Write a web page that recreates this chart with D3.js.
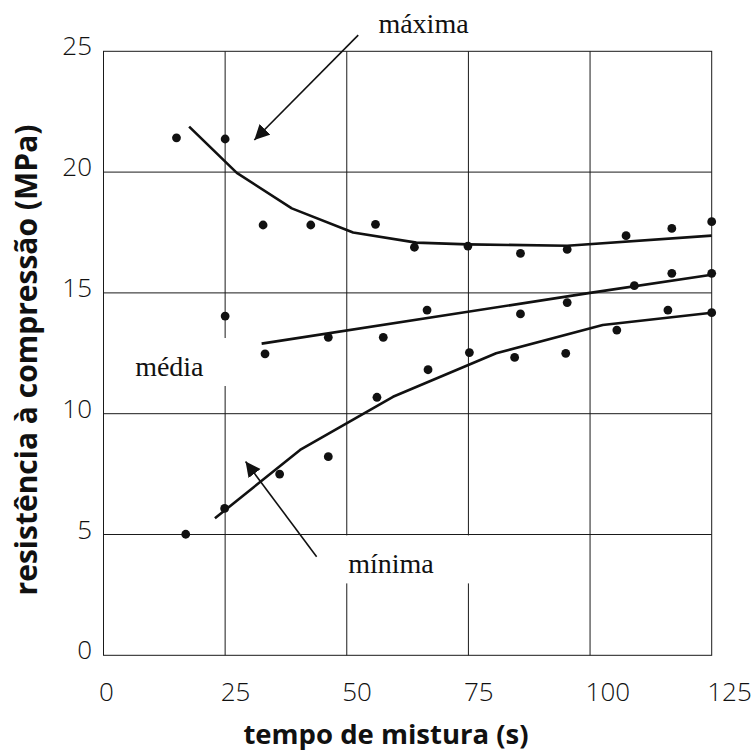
<!DOCTYPE html>
<html>
<head>
<meta charset="utf-8">
<script src="https://cdn.jsdelivr.net/npm/d3@7"></script>
<style>
  html, body { margin: 0; padding: 0; background: #fff; }
  svg { display: block; }
</style>
</head>
<body>
<svg id="chart" width="753" height="751"></svg>
<script>
// Eixos
const xTicks = [0, 25, 50, 75, 100, 125];
const yTicks = [0, 5, 10, 15, 20, 25];
const xTitle = "tempo de mistura (s)";
const yTitle = "resistência à compressão (MPa)";

// Ensaios individuais: tempo de mistura (s) e resistência (MPa)
const tempoObs  = [15.0, 25.0, 32.8, 42.6, 55.9, 63.9, 74.9, 85.7, 95.3, 107.4, 116.8, 125.0,
                   25.0, 33.2, 46.2, 57.5, 66.5, 85.7, 95.3, 109.1, 116.8, 125.0,
                   16.9, 24.9, 36.2, 46.2, 56.2, 66.7, 75.2, 84.5, 95.0, 105.5, 116.0, 125.0];
const resistObs = [21.42, 21.37, 17.81, 17.81, 17.84, 16.89, 16.94, 16.64, 16.80, 17.37, 17.67, 17.95,
                   14.04, 12.48, 13.16, 13.16, 14.29, 14.13, 14.60, 15.30, 15.81, 15.81,
                   5.01, 6.08, 7.50, 8.22, 10.68, 11.82, 12.53, 12.33, 12.50, 13.46, 14.29, 14.18];

// Curvas de tendência
const maxTempo  = [17.6, 27.4, 38.7, 51.3, 64.3, 74.9, 95.3, 125];
const maxResist = [21.88, 19.97, 18.5, 17.5, 17.08, 17.01, 16.95, 17.37];
const medTempo  = [32.5, 100, 125];
const medResist = [12.9, 15.0, 15.75];
const minTempo  = [22.9, 40.4, 59.5, 80.7, 102.6, 125];
const minResist = [5.67, 8.5, 10.7, 12.5, 13.67, 14.18];

// Rótulos das curvas (posição em unidades do gráfico)
const curveNames   = ["máxima", "média", "mínima"];
const curveLabelX  = [56.5, 6.5, 50.3];
const curveLabelY  = [25.75, 11.56, 3.39];
// Setas: origem e ponta (tempo, resistência)
const arrowFromX = [52.35, 43.8];
const arrowFromY = [25.67, 4.08];
const arrowToX   = [31.0, 29.2];
const arrowToY   = [21.33, 8.02];

const svg = d3.select("#chart");
const W = 753, H = 751;
const margin = { top: 51.3, right: 41.3, bottom: 95.7, left: 103.5 };
const innerW = W - margin.left - margin.right;
const innerH = H - margin.top - margin.bottom;

const x = d3.scaleLinear().domain([0, 125]).range([margin.left, margin.left + innerW]);
const y = d3.scaleLinear().domain([0, 25]).range([margin.top + innerH, margin.top]);

const ink = "#111";

// Grade
const grid = svg.append("g").attr("stroke", "#1a1a1a").attr("stroke-width", 1);
grid.selectAll("line.v").data(xTicks.slice(1, -1)).join("line")
  .attr("class", "v")
  .attr("x1", d => x(d)).attr("x2", d => x(d))
  .attr("y1", y(0)).attr("y2", y(25));
grid.selectAll("line.h").data(yTicks.slice(1, -1)).join("line")
  .attr("class", "h")
  .attr("x1", x(0)).attr("x2", x(125))
  .attr("y1", d => y(d)).attr("y2", d => y(d));
svg.append("rect")
  .attr("x", x(0)).attr("y", y(25))
  .attr("width", x(125) - x(0)).attr("height", y(0) - y(25))
  .attr("fill", "none").attr("stroke", "#1a1a1a").attr("stroke-width", 1);

// Rótulos das curvas com fundo branco
const labels = curveNames.map((name, i) => ({ name, tx: curveLabelX[i], ty: curveLabelY[i] }));
const boxLayer = svg.append("g");
const labelLayer = svg.append("g");
const labelText = labelLayer.selectAll("text").data(labels).join("text")
  .attr("x", d => x(d.tx))
  .attr("y", d => y(d.ty))
  .attr("font-family", "'Liberation Serif', 'Times New Roman', serif")
  .attr("font-size", 28)
  .attr("fill", ink)
  .text(d => d.name);
labelText.each(function (d) {
  const b = this.getBBox();
  const base = y(d.ty);
  boxLayer.append("rect")
    .attr("x", b.x - 8).attr("y", base - 38)
    .attr("width", b.width + 46).attr("height", 48)
    .attr("fill", "#fff");
});

// Curvas
const line = d3.line().x(d => x(d[0])).y(d => y(d[1]));
const curves = [
  d3.zip(maxTempo, maxResist),
  d3.zip(medTempo, medResist),
  d3.zip(minTempo, minResist)
];
svg.append("g").selectAll("path").data(curves).join("path")
  .attr("d", line)
  .attr("fill", "none")
  .attr("stroke", ink)
  .attr("stroke-width", 2.6)
  .attr("stroke-linejoin", "round");

// Pontos
svg.append("g").selectAll("circle").data(d3.zip(tempoObs, resistObs)).join("circle")
  .attr("cx", d => x(d[0]))
  .attr("cy", d => y(d[1]))
  .attr("r", 4.4)
  .attr("fill", ink);

// Setas
svg.append("defs").append("marker")
  .attr("id", "head")
  .attr("viewBox", "0 -8 15 16")
  .attr("refX", 15).attr("refY", 0)
  .attr("markerUnits", "userSpaceOnUse")
  .attr("markerWidth", 15).attr("markerHeight", 16)
  .attr("orient", "auto")
  .append("path")
  .attr("d", "M0,-7.5L15,0L0,7.5Z")
  .attr("fill", ink);
svg.append("g").selectAll("line").data(arrowFromX.map((fx, i) => [fx, arrowFromY[i], arrowToX[i], arrowToY[i]])).join("line")
  .attr("x1", d => x(d[0])).attr("y1", d => y(d[1]))
  .attr("x2", d => x(d[2])).attr("y2", d => y(d[3]))
  .attr("stroke", ink)
  .attr("stroke-width", 1.6)
  .attr("marker-end", "url(#head)");

// Valores dos eixos
const tickFont = "'Open Sans', 'DejaVu Sans', sans-serif";
const gx = svg.append("g")
  .attr("transform", `translate(0,${y(0)})`)
  .call(d3.axisBottom(x).tickValues(xTicks).tickSize(0).tickPadding(0));
gx.select(".domain").remove();
gx.selectAll("text")
  .attr("y", 46).attr("dy", 0).attr("dx", -5)
  .attr("text-anchor", "start")
  .attr("font-family", tickFont).attr("font-size", 26).attr("font-weight", 300)
  .attr("fill", ink);

const gy = svg.append("g")
  .attr("transform", `translate(${x(0)},0)`)
  .call(d3.axisLeft(y).tickValues(yTicks).tickSize(0).tickPadding(0));
gy.select(".domain").remove();
gy.selectAll("text")
  .attr("x", -11.5).attr("y", 3.5).attr("dy", 0)
  .attr("text-anchor", "end")
  .attr("font-family", tickFont).attr("font-size", 26).attr("font-weight", 300)
  .attr("fill", ink);

// Títulos dos eixos
svg.append("text")
  .attr("x", 386).attr("y", 744)
  .attr("text-anchor", "middle")
  .attr("font-family", tickFont).attr("font-size", 27.5).attr("font-weight", 700)
  .attr("fill", ink)
  .text(xTitle);
svg.append("text")
  .attr("transform", "translate(37,360) rotate(-90)")
  .attr("text-anchor", "middle")
  .attr("font-family", tickFont).attr("font-size", 30).attr("font-weight", 700)
  .attr("fill", ink)
  .text(yTitle);
</script>
</body>
</html>
